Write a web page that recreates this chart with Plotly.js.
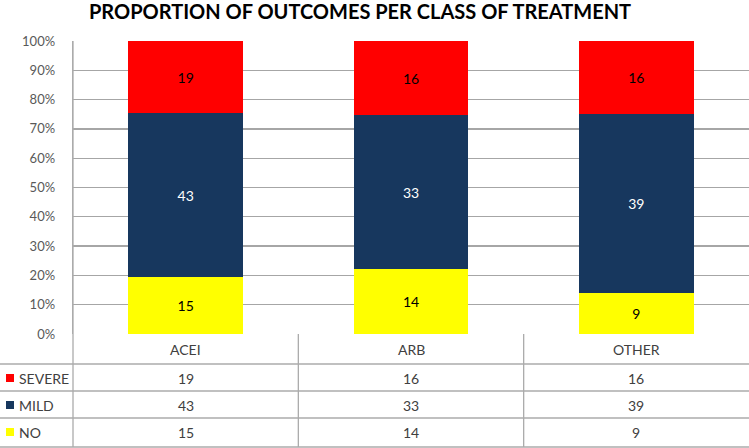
<!DOCTYPE html>
<html>
<head>
<meta charset="utf-8">
<script src="https://cdn.plot.ly/plotly-3.0.1.min.js"></script>
<style>html,body{margin:0;padding:0;background:#fff}#chart{width:749px;height:448px}</style>
</head>
<body>
<div id="chart"></div>
<script>
const categories = ["ACEI", "ARB", "OTHER"];
const seriesNames = ["NO", "MILD", "SEVERE"];
const noValues = [15, 14, 9];
const mildValues = [43, 33, 39];
const severeValues = [19, 16, 16];
const yTickVals = [0, 10, 20, 30, 40, 50, 60, 70, 80, 90, 100];

const colors = {NO: "#FFFF00", MILD: "#17375E", SEVERE: "#FF0000"};
const labelColors = {NO: "#000000", MILD: "#FFFFFF", SEVERE: "#000000"};
const valuesBySeries = {NO: noValues, MILD: mildValues, SEVERE: severeValues};

const W = 749, H = 448;
const M = {l: 73, r: 0, t: 41, b: 114};
const plotW = W - M.l - M.r, plotH = H - M.t - M.b;
const px2x = p => (p - M.l) / plotW;
const py2y = p => (H - M.b - p) / plotH;

const traces = seriesNames.map(name => ({
  type: "bar",
  name: name,
  x: categories,
  y: valuesBySeries[name],
  text: valuesBySeries[name].map(String),
  texttemplate: "%{text}",
  textposition: "inside",
  insidetextanchor: "middle",
  textangle: 0,
  textfont: {family: "Lato, 'Liberation Sans', sans-serif", size: 14, color: labelColors[name]},
  marker: {color: colors[name], line: {width: 0}},
  hoverinfo: "skip",
  showlegend: false
}));

const lineColor = "#ABABAB";
const shapes = [];
const rowLines = [364, 391, 418, 447];
rowLines.forEach(p => shapes.push({type: "line", xref: "paper", yref: "paper",
  x0: px2x(0), x1: px2x(749), y0: py2y(p), y1: py2y(p), line: {color: lineColor, width: 1.3}}));
shapes.push({type: "line", xref: "paper", yref: "paper", x0: 0, x1: 0, y0: py2y(447), y1: 1,
  line: {color: lineColor, width: 1.3}});
[0.5, 1.5].forEach(v => shapes.push({type: "line", xref: "x", yref: "paper", x0: v, x1: v,
  y0: py2y(447), y1: 0, line: {color: lineColor, width: 1.3}}));

const annotations = [];
const tableFont = {family: "Lato, 'Liberation Sans', sans-serif", size: 14, color: "#404040"};
categories.forEach(c => annotations.push({xref: "x", yref: "paper", x: c, y: py2y(349),
  text: c, showarrow: false, xanchor: "center", yanchor: "middle", font: tableFont}));
const rowOrder = ["SEVERE", "MILD", "NO"];
const rowCenters = [378, 405, 432];
rowOrder.forEach((name, i) => {
  const yc = py2y(rowCenters[i]);
  shapes.push({type: "rect", xref: "paper", yref: "paper",
    x0: px2x(6), x1: px2x(14), y0: py2y(rowCenters[i] + 4), y1: py2y(rowCenters[i] - 4),
    fillcolor: colors[name], line: {width: 0}});
  annotations.push({xref: "paper", yref: "paper", x: px2x(17), y: yc, text: name,
    showarrow: false, xanchor: "left", yanchor: "middle", font: tableFont});
  categories.forEach((c, j) => annotations.push({xref: "x", yref: "paper", x: c, y: yc,
    text: String(valuesBySeries[name][j]), showarrow: false, xanchor: "center", yanchor: "middle",
    font: tableFont}));
});

const layout = {
  width: W, height: H,
  margin: M,
  paper_bgcolor: "#FFFFFF", plot_bgcolor: "#FFFFFF",
  barmode: "stack",
  barnorm: "percent",
  bargap: 0.49,
  title: {text: "<b>PROPORTION OF OUTCOMES PER CLASS OF TREATMENT</b>",
    font: {family: "Lato, 'Liberation Sans', sans-serif", size: 20, color: "#000000"},
    x: px2x(360), xref: "paper", xanchor: "center", y: 1 - 12 / H, yanchor: "middle"},
  xaxis: {type: "category", range: [-0.5, 2.5], showticklabels: false, showgrid: false,
    zeroline: false, showline: false, ticks: "", fixedrange: true},
  yaxis: {range: [0, 100], tickvals: yTickVals, ticktext: yTickVals.map(v => v + "%"),
    showgrid: true, gridcolor: "#A6A6A6", gridwidth: 1.3, zeroline: false,
    showline: true, linecolor: lineColor, linewidth: 1.3, ticks: "", ticklabelstandoff: 14,
    tickfont: {family: "Lato, 'Liberation Sans', sans-serif", size: 13, color: "#595959"}},
  shapes: shapes,
  annotations: annotations,
  showlegend: false
};

Plotly.newPlot("chart", traces, layout, {displayModeBar: false, staticPlot: true});
</script>
</body>
</html>
